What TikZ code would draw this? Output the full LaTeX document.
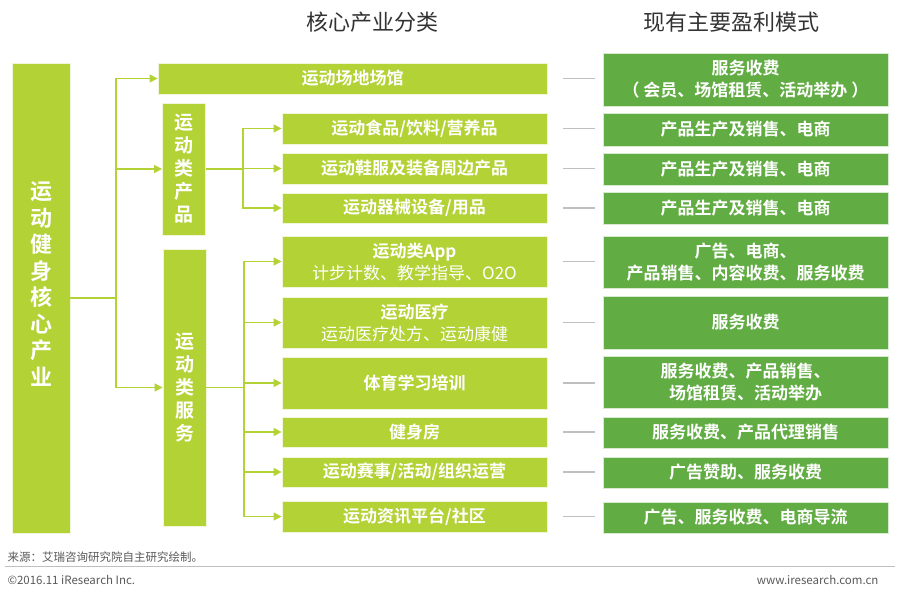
\documentclass[tikz,border=0pt]{standalone}
\usepackage{fontspec}
\setmainfont{Noto Sans CJK SC}[BoldFont=* Bold]
\usetikzlibrary{arrows.meta}
\definecolor{lg}{HTML}{B2D235}
\definecolor{dg}{HTML}{62AC44}
\definecolor{gl}{HTML}{BFBFBF}
\definecolor{tx}{HTML}{333333}
\definecolor{ft}{HTML}{595959}
\tikzset{
  lbox/.style={fill=lg, draw=white!80!lg, line width=0.8pt, inner sep=0pt, text=white,
    font=\fontsize{17}{22}\selectfont\bfseries, align=center},
  rbox/.style={fill=dg, draw=white!75!dg, line width=0.8pt, inner sep=0pt, text=white,
    minimum width=285, font=\fontsize{17}{22}\selectfont\bfseries, align=center},
  pbox/.style={lbox, minimum width=265},
  link/.style={draw=lg, line width=1.3pt},
  conn/.style={draw=lg, line width=1.3pt, -{Triangle[length=8pt,width=8pt]}},
  grayline/.style={draw=gl, line width=1.1pt, shorten <=16pt, shorten >=8pt},
  ttl/.style={text=tx, font=\fontsize{22}{26}\selectfont},
  foot/.style={text=ft, font=\fontsize{11.5}{14}\selectfont}
}
\begin{document}
\begin{tikzpicture}[x=1pt,y=-1pt]
\useasboundingbox (0,0) rectangle (900,596);
% titles
\node[ttl] (t1) at (372,22) {核心产业分类};
\node[ttl] (t2) at (731,22) {现有主要盈利模式};
% left big box
\node[lbox, minimum width=58, minimum height=470,
  label={[yshift=14pt, text=white, font=\fontsize{22}{26.5}\selectfont\bfseries, align=center]center:运\\动\\健\\身\\核\\心\\产\\业}] (L) at (41,298) {};
% top box
\node[lbox, minimum width=389, minimum height=31] (T1) at (352.5,78.5) {运动场地场馆};
% category boxes
\node[lbox, minimum width=43, minimum height=132, font=\fontsize{19}{23}\selectfont\bfseries] (P) at (184,169) {运\\动\\类\\产\\品};
\node[lbox, minimum width=43, minimum height=277, font=\fontsize{19}{23}\selectfont\bfseries] (S) at (184.5,387.5) {运\\动\\类\\服\\务};
% product boxes
\node[pbox, minimum height=31] (p1) at (414.5,128.5) {运动食品/饮料/营养品};
\node[pbox, minimum height=31] (p2) at (414.5,168.5) {运动鞋服及装备周边产品};
\node[pbox, minimum height=30] (p3) at (414.5,208) {运动器械设备/用品};
% service boxes
\node[pbox, minimum height=51] (s1) at (414.5,261.5) {运动类App\\{\mdseries 计步计数、教学指导、O2O}};
\node[pbox, minimum height=51] (s2) at (414.5,322.5) {运动医疗\\{\mdseries 运动医疗处方、运动康健}};
\node[pbox, minimum height=52] (s3) at (414.5,383) {体育学习培训};
\node[pbox, minimum height=30] (s4) at (414.5,432) {健身房};
\node[pbox, minimum height=30] (s5) at (414.5,472) {运动赛事/活动/组织运营};
\node[pbox, minimum height=31] (s6) at (414.5,516.5) {运动资讯平台/社区};
% right boxes
\node[rbox, minimum height=53] (R1) at (745.5,79.5) {服务收费\\（ 会员、场馆租赁、活动举办 ）};
\node[rbox, minimum height=33] (R2) at (745.5,129.5) {产品生产及销售、电商};
\node[rbox, minimum height=32] (R3) at (745.5,169) {产品生产及销售、电商};
\node[rbox, minimum height=32] (R4) at (745.5,208) {产品生产及销售、电商};
\node[rbox, minimum height=52] (R5) at (745.5,262) {广告、电商、\\产品销售、内容收费、服务收费};
\node[rbox, minimum height=53] (R6) at (745.5,322.5) {服务收费};
\node[rbox, minimum height=52] (R7) at (745.5,382) {服务收费、产品销售、\\场馆租赁、活动举办};
\node[rbox, minimum height=31] (R8) at (745.5,432.5) {服务收费、产品代理销售};
\node[rbox, minimum height=31] (R9) at (745.5,472.5) {广告赞助、服务收费};
\node[rbox, minimum height=31] (R10) at (745.5,517.5) {广告、服务收费、电商导流};
% connectors level 1
\coordinate (j1) at (116,298);
\draw[link] (L.east) -- (j1);
\draw[conn] (j1) |- (T1.west);
\draw[conn] (j1) |- (P.west);
\draw[conn] (j1) |- (S.west);
% products
\coordinate (j2) at (243,169);
\draw[link] (P.east) -- (j2);
\foreach \n in {p1,p2,p3} \draw[conn] (j2) |- (\n.west);
% services
\coordinate (j3) at (244,387.5);
\draw[link] (S.east) -- (j3);
\foreach \n in {s1,s2,s3,s4,s5,s6} \draw[conn] (j3) |- (\n.west);
% gray links
\draw[grayline] (T1.east) -- (T1.east -| R1.west);
\draw[grayline] (p1.east) -- (p1.east -| R2.west);
\draw[grayline] (p2.east) -- (p2.east -| R3.west);
\draw[grayline] (p3.east) -- (p3.east -| R4.west);
\draw[grayline] (s1.east) -- (s1.east -| R5.west);
\draw[grayline] (s2.east) -- (s2.east -| R6.west);
\draw[grayline] (s3.east) -- (s3.east -| R7.west);
\draw[grayline] (s4.east) -- (s4.east -| R8.west);
\draw[grayline] (s5.east) -- (s5.east -| R9.west);
\draw[grayline] (s6.east) -- (s6.east -| R10.west);
% footer
\node[foot, anchor=west] (src) at (4,557) {来源：艾瑞咨询研究院自主研究绘制。};
\coordinate (fl) at (5,566);
\coordinate (fr) at (895,566);
\draw[gl, line width=1pt] (fl) -- (fr);
\node[foot, anchor=west] (cp) at (4,580) {©2016.11 iResearch Inc.};
\node[foot, anchor=east] (url) at (882,580) {www.iresearch.com.cn};
\end{tikzpicture}
\end{document}
